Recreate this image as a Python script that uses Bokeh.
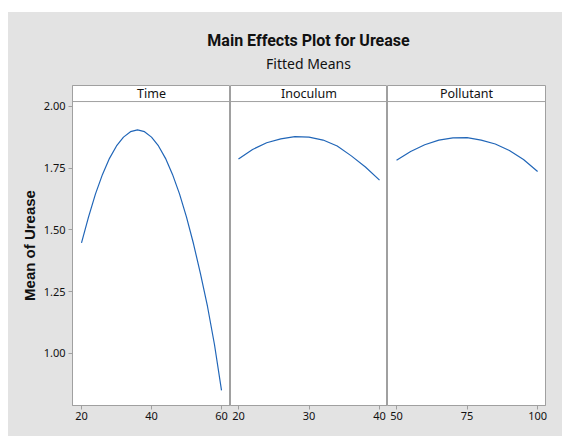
from bokeh.plotting import figure
from bokeh.layouts import column, row
from bokeh.models import Label, Span, FixedTicker, Range1d, Spacer, NumeralTickFormatter
from bokeh.embed import file_html
from bokeh.resources import INLINE

# ---- data ----
time_x = [20, 22, 24, 26, 28, 30, 32, 34, 36, 38, 40, 42, 44, 46, 48, 50, 52, 54, 56, 58, 60]
time_y = [1.448, 1.552, 1.646, 1.725, 1.790, 1.840, 1.876, 1.898, 1.905, 1.898, 1.876,
          1.840, 1.790, 1.725, 1.646, 1.552, 1.444, 1.322, 1.190, 1.035, 0.850]
inoc_x = [20, 22, 24, 26, 28, 30, 32, 34, 36, 38, 40]
inoc_y = [1.787, 1.826, 1.853, 1.869, 1.878, 1.876, 1.864, 1.840, 1.800, 1.755, 1.702]
poll_x = [50, 55, 60, 65, 70, 75, 80, 85, 90, 95, 100]
poll_y = [1.782, 1.818, 1.845, 1.864, 1.873, 1.874, 1.864, 1.848, 1.822, 1.785, 1.737]

panel_names = ["Time", "Inoculum", "Pollutant"]
y_ticks = [1.00, 1.25, 1.50, 1.75, 2.00]
x_ticks = [[20, 40, 60], [20, 30, 40], [50, 75, 100]]
title_text = "Main Effects Plot for Urease"
subtitle_text = "Fitted Means"
y_label = "Mean of Urease"

# ---- style ----
BG = "#e3e3e3"
FRAME = "#a0a0a0"
LINE = "#2166b8"
TXT = "#111111"
TICKFONT = "'Noto Sans', sans-serif"

y_range = Range1d(0.789, 2.085)
strip_bottom = 2.020
x_ranges = [Range1d(17.43, 62.57), Range1d(18.87, 41.13), Range1d(46.8, 102.8)]
widths = [222, 157, 175]
borders_left = [64, 0, 0]
borders_right = [0, 0, 17]
data = [(time_x, time_y), (inoc_x, inoc_y), (poll_x, poll_y)]

TOTAL_W = sum(widths)

# ---- header ----
top = figure(width=TOTAL_W, height=73, x_range=Range1d(0, TOTAL_W), y_range=Range1d(0, 73),
             x_axis_type=None, y_axis_type=None, toolbar_location=None,
             output_backend="svg", min_border=0)
top.border_fill_color = BG
top.background_fill_color = BG
top.outline_line_color = None
top.grid.visible = False
top.add_layout(Label(x=300, y=45, text=title_text, text_align="center", text_baseline="middle",
                     text_font="Roboto, sans-serif", text_font_style="bold",
                     text_font_size="16px", text_color=TXT))
top.add_layout(Label(x=300, y=22, text=subtitle_text, text_align="center", text_baseline="middle",
                     text_font=TICKFONT, text_font_size="14px", text_color=TXT))

panels = []
for i in range(3):
    p = figure(width=widths[i], height=351, x_range=x_ranges[i], y_range=y_range,
               toolbar_location=None, output_backend="svg",
               min_border_left=borders_left[i], min_border_right=borders_right[i],
               min_border_top=0, min_border_bottom=31,
               y_axis_location="left" if i == 0 else None,
               border_fill_color=BG, background_fill_color="white")
    p.outline_line_color = FRAME
    p.outline_line_width = 1
    p.grid.visible = False
    xs, ys = data[i]
    p.line(xs, ys, line_color=LINE, line_width=1.2)

    p.add_layout(Span(location=strip_bottom, dimension="width", line_color=FRAME, line_width=1))
    mid = (x_ranges[i].start + x_ranges[i].end) / 2
    p.add_layout(Label(x=mid, y=(strip_bottom + y_range.end) / 2, text=panel_names[i],
                       text_align="center", text_baseline="middle",
                       text_font=TICKFONT, text_font_size="12.5px", text_color=TXT))

    xa = p.xaxis[0]
    xa.ticker = FixedTicker(ticks=x_ticks[i])
    xa.axis_line_color = FRAME
    xa.major_tick_line_color = FRAME
    xa.major_tick_out = 4
    xa.major_tick_in = 0
    xa.minor_tick_line_color = None
    xa.major_label_text_font = TICKFONT
    xa.major_label_text_font_size = "11px"
    xa.major_label_text_color = TXT
    xa.major_label_standoff = 2

    if i == 0:
        ya = p.yaxis[0]
        ya.ticker = FixedTicker(ticks=y_ticks)
        ya.formatter = NumeralTickFormatter(format="0.00")
        ya.axis_line_color = FRAME
        ya.major_tick_line_color = FRAME
        ya.major_tick_out = 4
        ya.major_tick_in = 0
        ya.minor_tick_line_color = None
        ya.major_label_text_font = TICKFONT
        ya.major_label_text_font_size = "11px"
        ya.major_label_text_color = TXT
        ya.major_label_standoff = 3
        ya.axis_label = y_label
        ya.axis_label_text_font = "'Liberation Sans', sans-serif"
        ya.axis_label_text_font_style = "bold"
        ya.axis_label_text_font_size = "15px"
        ya.axis_label_text_color = TXT
        ya.axis_label_standoff = 3
    panels.append(p)

gray = column(top, row(*panels, spacing=0, styles={"background-color": BG}), spacing=0,
              styles={"background-color": BG})
layout = column(Spacer(height=12, width=TOTAL_W + 8),
                row(Spacer(width=8, height=424), gray, spacing=0), spacing=0)
open("out.html", "w").write(file_html(layout, INLINE))
